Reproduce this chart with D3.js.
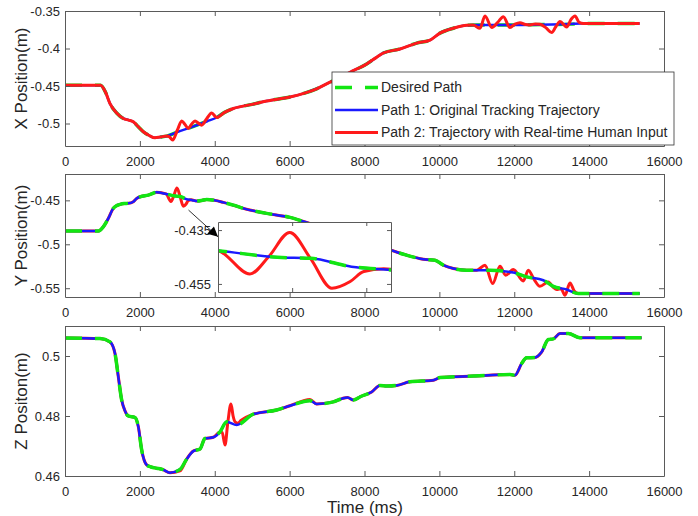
<!DOCTYPE html>
<html>
<head>
<meta charset="utf-8">
<script src="https://cdn.jsdelivr.net/npm/d3@7"></script>
<style>
  body { margin: 0; background: #fff; }
  text { font-family: "Liberation Sans", Arial, sans-serif; fill: #262626; }
  .axis path, .axis line { stroke: #5a5a5a; }
  .axis text { font-size: 13px; fill: #262626; }
</style>
</head>
<body>
<svg id="chart" width="698" height="516"></svg>
<script>
// ---- X position panel ----
var tX = [0, 950, 1080, 1202, 1380, 1558, 1700, 1825, 1950, 2092, 2250, 2404, 2550, 2717, 3000, 3400, 3800, 4052, 4250, 4497,
          5000, 5386, 6010, 6400, 6722, 7078, 7300, 7613, 8058, 8300, 8503, 8948, 9394, 9750, 10017, 10373, 10729, 11000, 12000, 13000,
          13500, 13800, 15350];
var xDesired = [-0.449, -0.449, -0.458, -0.4735, -0.486, -0.4933, -0.4955, -0.4978, -0.504, -0.511, -0.516, -0.519, -0.518, -0.5168, -0.5115, -0.5045, -0.497, -0.492, -0.4855, -0.480,
                -0.4745, -0.470, -0.4647, -0.4595, -0.4537, -0.4449, -0.440, -0.4317, -0.4206, -0.4125, -0.406, -0.4007, -0.3928, -0.3888, -0.3795, -0.373, -0.369, -0.3688, -0.3686, -0.368,
                -0.3675, -0.3668, -0.3668];
var xPath1 = [-0.449, -0.449, -0.458, -0.4735, -0.486, -0.4933, -0.4955, -0.4978, -0.504, -0.511, -0.516, -0.519, -0.518, -0.5168, -0.5115, -0.5045, -0.497, -0.492, -0.4855, -0.480,
              -0.4745, -0.470, -0.4647, -0.4595, -0.4537, -0.4449, -0.440, -0.4317, -0.4206, -0.4125, -0.406, -0.4007, -0.3928, -0.3888, -0.3795, -0.373, -0.369, -0.3688, -0.3686, -0.368,
              -0.3672, -0.3668, -0.3668];
var tXr = [0, 950, 1080, 1202, 1380, 1558, 1700, 1825, 1950, 2092, 2250, 2404, 2550, 2717, 2780, 2876, 3000, 3117, 3200, 3295,
           3380, 3473, 3560, 3651, 3780, 3918, 4052, 4250, 4497, 5000, 5386, 6010, 6400, 6722, 7078, 7300, 7613, 8058, 8300, 8503,
           8948, 9394, 9750, 10017, 10373, 10729, 10900, 11085, 11219, 11400, 11560, 11708, 11886, 12020, 12153, 12300, 12420, 12560, 12687, 12850,
           12999, 13110, 13222, 13400, 13520, 13623, 13730, 13850, 15350];
var xPath2 = [-0.449, -0.449, -0.458, -0.4735, -0.486, -0.4933, -0.4955, -0.4978, -0.504, -0.511, -0.516, -0.519, -0.518, -0.5168, -0.5175, -0.522, -0.509, -0.4965, -0.501, -0.5066,
              -0.501, -0.4965, -0.4995, -0.5022, -0.494, -0.486, -0.492, -0.4855, -0.480, -0.4745, -0.470, -0.4647, -0.4595, -0.4537, -0.4449, -0.440, -0.4317, -0.4206, -0.4125, -0.406,
              -0.4007, -0.3928, -0.3888, -0.3795, -0.373, -0.369, -0.3688, -0.373, -0.3566, -0.372, -0.365, -0.3575, -0.372, -0.3675, -0.3655, -0.368, -0.3685, -0.3672, -0.3676, -0.3725,
              -0.3787, -0.371, -0.3641, -0.3712, -0.361, -0.3566, -0.365, -0.3668, -0.3668];

// ---- Y position panel ----
var tY = [0, 890, 1023, 1157, 1290, 1380, 1469, 1580, 1692, 1824, 1910, 2003, 2226, 2449, 2700, 2940, 3075, 3240, 3400, 3517,
          3650, 3784, 4000, 4228, 4500, 4763, 5386, 6010, 6455, 7000, 7500, 8000, 8400, 8708, 9126, 9571, 9884, 10106, 10373, 10729,
          11352, 11975, 12331, 12776, 13043, 13400, 13710, 15350];
var yDesired = [-0.485, -0.485, -0.4801, -0.4706, -0.4591, -0.456, -0.4546, -0.4536, -0.4534, -0.4516, -0.448, -0.4459, -0.444, -0.4409, -0.4427, -0.4451, -0.4455, -0.4486, -0.4498, -0.4508,
                -0.4502, -0.4489, -0.450, -0.4523, -0.4555, -0.4591, -0.4648, -0.4694, -0.4751, -0.482, -0.488, -0.495, -0.501, -0.5067, -0.5124, -0.517, -0.5181, -0.5238, -0.5276, -0.5295,
                -0.5295, -0.5322, -0.5371, -0.5409, -0.5478, -0.5515, -0.5561, -0.5561];
var yPath1 = [-0.485, -0.485, -0.4801, -0.4706, -0.4591, -0.456, -0.4546, -0.4536, -0.4534, -0.4516, -0.448, -0.4459, -0.444, -0.4409, -0.4427, -0.4451, -0.4455, -0.4486, -0.4498, -0.4508,
              -0.4502, -0.4489, -0.450, -0.4523, -0.4555, -0.4591, -0.4648, -0.4694, -0.4751, -0.482, -0.488, -0.495, -0.501, -0.5067, -0.5124, -0.517, -0.5181, -0.5238, -0.5276, -0.5295,
              -0.5295, -0.5322, -0.5371, -0.5409, -0.5478, -0.5515, -0.5561, -0.5561];
var tYr = [0, 890, 1023, 1157, 1290, 1380, 1469, 1580, 1692, 1824, 1910, 2003, 2226, 2449, 2700, 2829, 2905, 2990, 3074, 3161,
           3235, 3290, 3370, 3517, 3650, 3784, 4000, 4228, 4500, 4763, 5386, 6010, 6455, 7000, 7500, 8000, 8400, 8708, 9126, 9571,
           9884, 10106, 10373, 10729, 11000, 11219, 11424, 11619, 11771, 11975, 12242, 12376, 12530, 12687, 12910, 13043, 13133, 13250, 13355, 13489,
           13600, 13710, 15350];
var yPath2 = [-0.485, -0.485, -0.4801, -0.4706, -0.4591, -0.456, -0.4546, -0.4536, -0.4534, -0.4516, -0.448, -0.4459, -0.444, -0.4409, -0.4427, -0.4513, -0.4449, -0.4359, -0.4455, -0.4566,
              -0.4541, -0.4504, -0.4494, -0.4508, -0.4502, -0.4489, -0.450, -0.4523, -0.4555, -0.4591, -0.4648, -0.4694, -0.4751, -0.482, -0.488, -0.495, -0.501, -0.5067, -0.5124, -0.517,
              -0.5181, -0.5238, -0.5276, -0.5295, -0.5295, -0.5238, -0.5447, -0.525, -0.5353, -0.5288, -0.5417, -0.5295, -0.540, -0.5478, -0.5429, -0.549, -0.5515, -0.5505, -0.558, -0.544,
              -0.553, -0.5561, -0.5561];

// ---- Z position panel ----
var tZ = [0, 935, 1202, 1336, 1425, 1514, 1600, 1692, 1870, 1959, 2048, 2181, 2300, 2448, 2600, 2804, 3071, 3249, 3427, 3606,
          3739, 3962, 4140, 4318, 4585, 5029, 5653, 6010, 6544, 6722, 7167, 7400, 7550, 7700, 7900, 8191, 8414, 8600, 8860, 9216,
          9839, 10017, 10907, 11886, 12020, 12198, 12331, 12553, 12731, 12910, 13043, 13222, 13444, 13756, 15400];
var zDesired = [0.506, 0.5058, 0.5047, 0.5008, 0.493, 0.4853, 0.4818, 0.480, 0.4795, 0.4764, 0.4687, 0.4637, 0.463, 0.4626, 0.4622, 0.4611, 0.4622, 0.4656, 0.4683, 0.469,
                0.4725, 0.4729, 0.4747, 0.4781, 0.477, 0.4806, 0.482, 0.4834, 0.4851, 0.484, 0.4847, 0.4858, 0.4862, 0.4853, 0.4865, 0.488, 0.4902, 0.490, 0.4902, 0.4914,
                0.4919, 0.4928, 0.4933, 0.4938, 0.4936, 0.4975, 0.4994, 0.4995, 0.5013, 0.5055, 0.5057, 0.5075, 0.5075, 0.5061, 0.5061];
var zPath1 = [0.506, 0.5058, 0.5047, 0.5008, 0.493, 0.4853, 0.4818, 0.480, 0.4795, 0.4764, 0.4687, 0.4637, 0.463, 0.4626, 0.4622, 0.4611, 0.4622, 0.4656, 0.4683, 0.469,
              0.4725, 0.4729, 0.4747, 0.4781, 0.477, 0.4806, 0.482, 0.4834, 0.4851, 0.484, 0.4847, 0.4858, 0.4862, 0.4853, 0.4865, 0.488, 0.4902, 0.490, 0.4902, 0.4914,
              0.4919, 0.4928, 0.4933, 0.4938, 0.4936, 0.4975, 0.4994, 0.4995, 0.5013, 0.5055, 0.5057, 0.5075, 0.5075, 0.5061, 0.5061];
var tZr = [0, 935, 1202, 1336, 1425, 1514, 1600, 1692, 1870, 1959, 2048, 2181, 2300, 2448, 2600, 2804, 3071, 3249, 3427, 3606,
           3739, 3962, 4140, 4200, 4274, 4350, 4434, 4490, 4541, 4620, 4700, 5029, 5653, 6010, 6544, 6722, 7167, 7400, 7550, 7700,
           7900, 8191, 8414, 8600, 8860, 9216, 9839, 10017, 10907, 11886, 12020, 12198, 12331, 12553, 12731, 12910, 13043, 13222, 13444, 13756,
           15400];
var zPath2 = [0.506, 0.5058, 0.5047, 0.5008, 0.493, 0.4853, 0.4818, 0.480, 0.4795, 0.4764, 0.4687, 0.4637, 0.463, 0.4626, 0.4622, 0.4611, 0.4617, 0.4656, 0.4683, 0.469,
              0.4725, 0.4729, 0.4747, 0.4745, 0.4703, 0.478, 0.484, 0.480, 0.4781, 0.4776, 0.4785, 0.4806, 0.482, 0.4834, 0.4855, 0.484, 0.4847, 0.4858, 0.4862, 0.4853,
              0.4865, 0.488, 0.4902, 0.490, 0.4902, 0.4914, 0.4919, 0.4928, 0.4933, 0.4938, 0.4936, 0.4975, 0.4994, 0.4995, 0.5013, 0.5055, 0.5057, 0.5075, 0.5075, 0.5061,
              0.5061];

var xTicks = [0, 2000, 4000, 6000, 8000, 10000, 12000, 14000, 16000];
var legendLabels = ["Desired Path", "Path 1: Original Tracking Trajectory", "Path 2: Trajectory with Real-time Human Input"];

var GREEN = "#12e612", BLUE = "#1a1aff", RED = "#ff1a1a";
var DASH = "17,13";

var svg = d3.select("#chart");
var defs = svg.append("defs");
var x = d3.scaleLinear().domain([0, 16000]).range([65, 664]);

var line = function (xs, ys) {
    return d3.line()
        .x(function (d) { return xs(d[0]); })
        .y(function (d) { return ys(d[1]); })
        .curve(d3.curveMonotoneX);
};

function drawSeries(g, xs, ys, series) {
    series.forEach(function (s) {
        g.append("path")
            .datum(d3.zip(s.t, s.v))
            .attr("fill", "none")
            .attr("stroke", s.color)
            .attr("stroke-width", s.width)
            .attr("stroke-dasharray", s.dash || null)
            .attr("stroke-linejoin", "round")
            .attr("d", line(xs, ys));
    });
}

function drawBox(g, xs, ys, yTicks, opts) {
    var r = xs.range(), b = ys.range();
    g.append("g").attr("class", "axis")
        .attr("transform", "translate(0," + b[0] + ")")
        .call(d3.axisBottom(xs).tickValues(opts.xTicks).tickSizeInner(-opts.tick).tickSizeOuter(0)
            .tickPadding(11).tickFormat(opts.xLabels ? d3.format("d") : ""));
    g.append("g").attr("class", "axis")
        .attr("transform", "translate(0," + b[1] + ")")
        .call(d3.axisTop(xs).tickValues(opts.xTicks).tickSizeInner(-opts.tick).tickSizeOuter(0).tickFormat(""));
    g.append("g").attr("class", "axis")
        .attr("transform", "translate(" + r[0] + ",0)")
        .call(d3.axisLeft(ys).tickValues(yTicks).tickSizeInner(-opts.tick).tickSizeOuter(0)
            .tickPadding(opts.yPad).tickFormat(function (d) { return String(d); }));
    g.append("g").attr("class", "axis")
        .attr("transform", "translate(" + r[1] + ",0)")
        .call(d3.axisRight(ys).tickValues(yTicks).tickSizeInner(-opts.tick).tickSizeOuter(0).tickFormat(""));
}

function addPanel(p) {
    var y = d3.scaleLinear().domain(p.domain).range([p.bottom, p.top]);
    var g = svg.append("g");
    defs.append("clipPath").attr("id", p.id).append("rect")
        .attr("x", 65).attr("y", p.top).attr("width", 599).attr("height", p.bottom - p.top);
    var lines = g.append("g").attr("clip-path", "url(#" + p.id + ")");
    drawSeries(lines, x, y, p.series);
    drawBox(g, x, y, p.yTicks, {xTicks: xTicks, xLabels: true, tick: 5, yPad: 5});
    g.append("text")
        .attr("transform", "translate(27," + (p.top + p.bottom) / 2 + ") rotate(-90)")
        .attr("text-anchor", "middle")
        .style("font-size", "17px")
        .text(p.label);
    return y;
}

// X panel: red drawn on top
var yX = addPanel({
    id: "clipX", top: 11, bottom: 146, domain: [-0.53, -0.35],
    yTicks: [-0.5, -0.45, -0.4, -0.35], label: "X Position(m)",
    series: [
        {t: tX, v: xDesired, color: GREEN, width: 3.5, dash: DASH},
        {t: tX, v: xPath1, color: BLUE, width: 2.5},
        {t: tXr, v: xPath2, color: RED, width: 3}
    ]
});

// Y panel: dashed desired path on top
var ySeries = [
    {t: tYr, v: yPath2, color: RED, width: 3},
    {t: tY, v: yPath1, color: BLUE, width: 2.5},
    {t: tY, v: yDesired, color: GREEN, width: 3.5, dash: DASH}
];
var yY = addPanel({
    id: "clipY", top: 174, bottom: 297, domain: [-0.56, -0.42],
    yTicks: [-0.55, -0.5, -0.45], label: "Y Position(m)",
    series: ySeries
});

var yZ = addPanel({
    id: "clipZ", top: 326, bottom: 476, domain: [0.46, 0.51],
    yTicks: [0.46, 0.48, 0.5], label: "Z Positon(m)",
    series: [
        {t: tZr, v: zPath2, color: RED, width: 3},
        {t: tZ, v: zPath1, color: BLUE, width: 2.5},
        {t: tZ, v: zDesired, color: GREEN, width: 3.5, dash: DASH}
    ]
});

svg.append("text")
    .attr("x", 365).attr("y", 513)
    .attr("text-anchor", "middle")
    .style("font-size", "17px")
    .text("Time (ms)");

// legend
var leg = svg.append("g").attr("transform", "translate(332,72)");
leg.append("rect").attr("width", 342).attr("height", 73)
    .attr("fill", "#fff").attr("stroke", "#333").attr("stroke-width", 0.8);
var legStyle = [
    {color: GREEN, width: 3.5, dash: DASH},
    {color: BLUE, width: 2.5},
    {color: RED, width: 3}
];
legendLabels.forEach(function (lab, i) {
    var yy = 15.5 + i * 22.5;
    leg.append("line")
        .attr("x1", 3).attr("x2", 46).attr("y1", yy).attr("y2", yy)
        .attr("stroke", legStyle[i].color).attr("stroke-width", legStyle[i].width)
        .attr("stroke-dasharray", legStyle[i].dash || null);
    leg.append("text")
        .attr("x", 49).attr("y", yy).attr("dy", "0.35em")
        .style("font-size", "14px")
        .text(lab);
});

// zoomed inset on the first disturbance of the Y panel
var ix = d3.scaleLinear().domain([2700, 3400]).range([218, 391]);
var iy = d3.scaleLinear().domain([-0.458, -0.432]).range([292, 222]);
var inset = svg.append("g");
inset.append("rect")
    .attr("x", 218).attr("y", 222).attr("width", 173).attr("height", 70)
    .attr("fill", "#fff");
defs.append("clipPath").attr("id", "clipInset").append("rect")
    .attr("x", 218).attr("y", 222).attr("width", 173).attr("height", 70);
drawSeries(inset.append("g").attr("clip-path", "url(#clipInset)"), ix, iy, ySeries);
drawBox(inset, ix, iy, [-0.455, -0.435], {xTicks: [3000, 3300], xLabels: false, tick: 4, yPad: 7});

// arrow pointing from the disturbance to the inset
defs.append("marker")
    .attr("id", "arrowhead")
    .attr("viewBox", "0 0 10 10")
    .attr("refX", 10).attr("refY", 5)
    .attr("markerWidth", 13).attr("markerHeight", 10)
    .attr("markerUnits", "userSpaceOnUse")
    .attr("orient", "auto")
    .append("path").attr("d", "M0,0L10,5L0,10Z").attr("fill", "#000");
svg.append("line")
    .attr("x1", x(3300)).attr("y1", yY(-0.4611))
    .attr("x2", ix(2700)).attr("y2", iy(-0.4375))
    .attr("stroke", "#000").attr("stroke-width", 0.8)
    .attr("marker-end", "url(#arrowhead)");
</script>
</body>
</html>
